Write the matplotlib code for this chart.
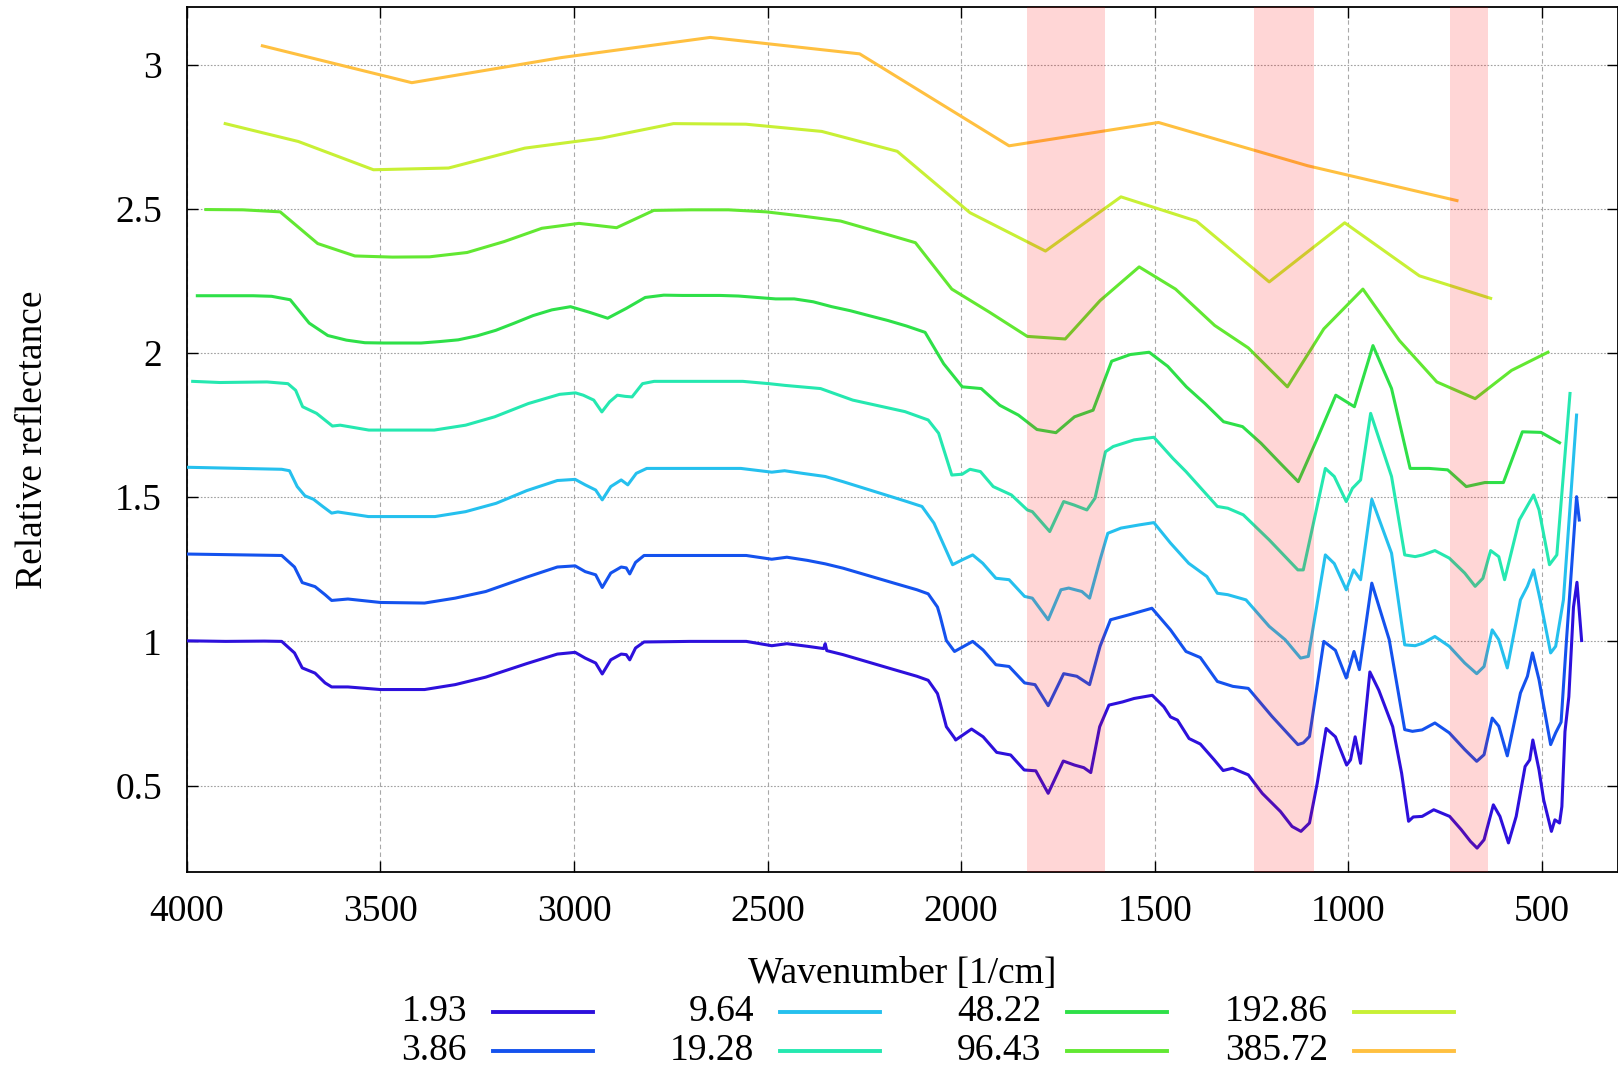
import matplotlib
matplotlib.use("Agg")
import matplotlib.pyplot as plt
from matplotlib.lines import Line2D

plt.rcParams["font.family"] = ["Liberation Serif", "DejaVu Serif"]
plt.rcParams["mathtext.fontset"] = "stix"

# spectral resolution of each curve [1/cm]
labels = ["1.93", "3.86", "9.64", "19.28", "48.22", "96.43", "192.86", "385.72"]
colors = ["#2d10dc", "#1452ee", "#25c0ee", "#25e8b0", "#2ee048", "#62e832", "#c8f035", "#ffc040"]

wn_193 = [4000, 3900, 3800, 3755, 3722, 3702, 3669, 3643, 3626, 3584, 3500, 3386, 3307, 3228, 3122,
          3043, 2997, 2971, 2944, 2927, 2905, 2878, 2865, 2856, 2841, 2819, 2700, 2555, 2489, 2450,
          2397, 2355, 2351, 2347, 2305, 2173, 2114, 2085, 2074, 2061, 2054, 2038, 2017, 2014, 1973,
          1943, 1908, 1872, 1837, 1807, 1775, 1736, 1707, 1683, 1665, 1642, 1618, 1583, 1553, 1506,
          1476, 1459, 1441, 1411, 1382, 1346, 1323, 1299, 1258, 1222, 1175, 1145, 1122, 1100, 1080,
          1057, 1033, 1004, 994, 982, 968, 944, 921, 885, 862, 844, 832, 809, 779, 738,
          708, 684, 667, 649, 625, 608, 586, 566, 543, 531, 523, 507, 495, 475, 466,
          454, 448, 440, 430, 418, 409, 397]
refl_193 = [1.002, 1.000, 1.001, 1.000, 0.960, 0.908, 0.890, 0.856, 0.842, 0.842, 0.833, 0.833, 0.850, 0.876, 0.923,
            0.956, 0.962, 0.942, 0.925, 0.887, 0.936, 0.956, 0.954, 0.936, 0.977, 0.998, 1.000, 1.000, 0.985, 0.992,
            0.983, 0.975, 0.992, 0.968, 0.954, 0.902, 0.879, 0.865, 0.844, 0.819, 0.786, 0.704, 0.665, 0.658, 0.696,
            0.669, 0.615, 0.606, 0.554, 0.551, 0.473, 0.585, 0.571, 0.562, 0.545, 0.704, 0.779, 0.790, 0.802, 0.813,
            0.773, 0.738, 0.727, 0.663, 0.644, 0.589, 0.552, 0.560, 0.537, 0.473, 0.410, 0.358, 0.341, 0.370, 0.508,
            0.698, 0.669, 0.571, 0.589, 0.669, 0.577, 0.894, 0.831, 0.704, 0.543, 0.376, 0.391, 0.393, 0.416, 0.393,
            0.347, 0.306, 0.283, 0.312, 0.433, 0.393, 0.301, 0.393, 0.566, 0.589, 0.658, 0.554, 0.450, 0.341, 0.381,
            0.370, 0.427, 0.687, 0.808, 1.119, 1.205, 1.003]

wn_386 = [4000, 3755, 3722, 3702, 3669, 3643, 3626, 3584, 3500, 3386, 3307, 3228, 3122, 3043, 2997,
          2971, 2944, 2927, 2905, 2878, 2865, 2856, 2841, 2819, 2555, 2489, 2450, 2397, 2351, 2305,
          2173, 2114, 2085, 2074, 2061, 2054, 2038, 2017, 1970, 1943, 1910, 1876, 1836, 1809, 1775,
          1735, 1701, 1668, 1641, 1614, 1567, 1507, 1459, 1419, 1382, 1338, 1298, 1258, 1197, 1130,
          1116, 1100, 1063, 1033, 1005, 985, 971, 939, 894, 854, 834, 809, 776, 739, 699,
          668, 649, 628, 611, 589, 555, 537, 524, 507, 477, 464, 450, 436, 410, 403]
refl_386 = [1.303, 1.298, 1.258, 1.204, 1.190, 1.162, 1.142, 1.147, 1.135, 1.133, 1.150, 1.173, 1.223, 1.258, 1.262,
            1.242, 1.231, 1.187, 1.237, 1.258, 1.255, 1.234, 1.274, 1.298, 1.298, 1.285, 1.292, 1.281, 1.269, 1.254,
            1.202, 1.179, 1.165, 1.144, 1.119, 1.087, 1.003, 0.965, 1.000, 0.970, 0.919, 0.913, 0.856, 0.850, 0.777,
            0.888, 0.879, 0.850, 0.983, 1.075, 1.092, 1.115, 1.040, 0.965, 0.944, 0.861, 0.844, 0.837, 0.740, 0.642,
            0.648, 0.670, 1.000, 0.969, 0.873, 0.965, 0.902, 1.202, 1.006, 0.694, 0.688, 0.693, 0.717, 0.683, 0.625,
            0.584, 0.607, 0.734, 0.706, 0.603, 0.821, 0.879, 0.960, 0.867, 0.642, 0.683, 0.720, 1.006, 1.502, 1.421]

wn_964 = [4000, 3755, 3735, 3715, 3695, 3673, 3649, 3626, 3610, 3531, 3359, 3280, 3201, 3122, 3043,
          2997, 2971, 2944, 2927, 2905, 2878, 2861, 2839, 2812, 2569, 2489, 2456, 2410, 2351, 2305,
          2147, 2101, 2070, 2043, 2022, 1997, 1970, 1944, 1910, 1876, 1836, 1816, 1775, 1742, 1722,
          1688, 1668, 1641, 1621, 1587, 1540, 1502, 1459, 1412, 1365, 1338, 1311, 1264, 1204, 1163,
          1123, 1103, 1059, 1036, 1005, 986, 968, 939, 888, 854, 827, 807, 776, 739, 699,
          668, 649, 628, 611, 589, 555, 537, 521, 504, 477, 464, 444, 410]
refl_964 = [1.604, 1.597, 1.592, 1.537, 1.505, 1.493, 1.468, 1.445, 1.449, 1.433, 1.433, 1.450, 1.479, 1.523, 1.558,
            1.562, 1.543, 1.525, 1.491, 1.537, 1.560, 1.543, 1.583, 1.600, 1.600, 1.587, 1.592, 1.583, 1.572, 1.554,
            1.488, 1.468, 1.410, 1.329, 1.266, 1.283, 1.300, 1.271, 1.219, 1.214, 1.156, 1.150, 1.075, 1.179, 1.185,
            1.173, 1.150, 1.283, 1.375, 1.393, 1.404, 1.412, 1.341, 1.271, 1.225, 1.167, 1.162, 1.144, 1.052, 1.006,
            0.942, 0.948, 1.300, 1.270, 1.179, 1.248, 1.214, 1.493, 1.306, 0.988, 0.985, 0.994, 1.017, 0.983, 0.925,
            0.888, 0.913, 1.040, 1.006, 0.908, 1.144, 1.191, 1.248, 1.144, 0.960, 0.983, 1.144, 1.785]

wn_1928 = [3985, 3915, 3793, 3739, 3719, 3701, 3665, 3624, 3604, 3530, 3361, 3280, 3205, 3118, 3037,
           2996, 2976, 2949, 2928, 2908, 2888, 2868, 2850, 2823, 2793, 2564, 2496, 2455, 2363, 2280,
           2145, 2085, 2058, 2024, 1997, 1977, 1950, 1917, 1870, 1829, 1816, 1771, 1735, 1708, 1675,
           1654, 1627, 1607, 1553, 1502, 1453, 1419, 1338, 1311, 1271, 1204, 1130, 1116, 1059, 1036,
           1005, 989, 968, 942, 888, 854, 827, 807, 776, 739, 699, 672, 652, 632, 611,
           596, 558, 521, 507, 480, 461, 427]
refl_1928 = [1.902, 1.898, 1.900, 1.894, 1.871, 1.814, 1.791, 1.747, 1.750, 1.733, 1.733, 1.750, 1.779, 1.825, 1.857,
             1.862, 1.854, 1.837, 1.796, 1.831, 1.854, 1.850, 1.848, 1.894, 1.902, 1.902, 1.894, 1.888, 1.877, 1.837,
             1.797, 1.768, 1.722, 1.577, 1.580, 1.597, 1.589, 1.537, 1.508, 1.456, 1.450, 1.381, 1.485, 1.473, 1.456,
             1.497, 1.658, 1.676, 1.699, 1.708, 1.635, 1.589, 1.468, 1.462, 1.439, 1.352, 1.248, 1.248, 1.600, 1.572,
             1.485, 1.531, 1.560, 1.791, 1.572, 1.300, 1.294, 1.300, 1.315, 1.289, 1.237, 1.191, 1.219, 1.315, 1.294,
             1.214, 1.421, 1.508, 1.456, 1.266, 1.300, 1.860]

wn_4822 = [3973, 3925, 3877, 3829, 3781, 3733, 3684, 3636, 3588, 3540, 3491, 3443, 3395, 3347, 3299,
           3250, 3202, 3154, 3106, 3057, 3009, 2961, 2913, 2865, 2816, 2768, 2720, 2672, 2623, 2575,
           2527, 2479, 2431, 2382, 2334, 2286, 2238, 2189, 2141, 2093, 2045, 1997, 1948, 1900, 1852,
           1804, 1755, 1707, 1659, 1611, 1563, 1514, 1466, 1418, 1370, 1322, 1273, 1225, 1177, 1129,
           1081, 1032, 984, 936, 888, 840, 791, 743, 695, 647, 599, 550, 502, 454]
refl_4822 = [2.199, 2.199, 2.199, 2.199, 2.197, 2.185, 2.104, 2.061, 2.045, 2.036, 2.035, 2.035, 2.035, 2.040, 2.046,
             2.060, 2.079, 2.104, 2.130, 2.150, 2.161, 2.142, 2.121, 2.155, 2.193, 2.201, 2.200, 2.200, 2.200, 2.198,
             2.193, 2.188, 2.188, 2.178, 2.161, 2.147, 2.130, 2.113, 2.094, 2.072, 1.963, 1.883, 1.877, 1.819, 1.785,
             1.735, 1.724, 1.779, 1.802, 1.972, 1.995, 2.003, 1.954, 1.883, 1.825, 1.762, 1.745, 1.687, 1.620, 1.554,
             1.700, 1.854, 1.814, 2.026, 1.877, 1.600, 1.600, 1.595, 1.537, 1.551, 1.551, 1.727, 1.725, 1.689]

wn_9643 = [3951, 3855, 3759, 3662, 3566, 3469, 3373, 3276, 3180, 3083, 2987, 2890, 2794, 2697, 2601,
           2504, 2408, 2311, 2215, 2118, 2024, 1928, 1829, 1731, 1641, 1540, 1446, 1345, 1258, 1157,
           1063, 962, 868, 771, 672, 578, 484]
refl_9643 = [2.498, 2.497, 2.490, 2.380, 2.337, 2.333, 2.334, 2.349, 2.387, 2.433, 2.450, 2.435, 2.495, 2.497, 2.497,
             2.490, 2.475, 2.458, 2.421, 2.383, 2.222, 2.143, 2.058, 2.049, 2.182, 2.299, 2.222, 2.096, 2.018, 1.883,
             2.084, 2.222, 2.044, 1.900, 1.842, 1.940, 2.003]

wn_19286 = [3901, 3712, 3518, 3324, 3127, 2928, 2743, 2556, 2360, 2165, 1977, 1782, 1587, 1392, 1204,
            1009, 816, 632]
refl_19286 = [2.796, 2.734, 2.636, 2.642, 2.711, 2.746, 2.796, 2.794, 2.769, 2.700, 2.487, 2.354, 2.542, 2.458, 2.247,
              2.452, 2.268, 2.190]

wn_38572 = [3805, 3419, 3033, 2648, 2262, 1876, 1490, 1105, 719]
refl_38572 = [3.066, 2.938, 3.025, 3.095, 3.038, 2.719, 2.800, 2.650, 2.529]

# highlighted absorption bands [1/cm]
band_hi = [1829, 1244, 736]
band_lo = [1628, 1088, 638]

xticks = [4000, 3500, 3000, 2500, 2000, 1500, 1000, 500]
yticks = [0.5, 1, 1.5, 2, 2.5, 3]

series_wn = [wn_193, wn_386, wn_964, wn_1928, wn_4822, wn_9643, wn_19286, wn_38572]
series_refl = [refl_193, refl_386, refl_964, refl_1928, refl_4822, refl_9643, refl_19286, refl_38572]

FS = 27

fig = plt.figure(figsize=(16.18, 10.68), dpi=100)
ax = fig.add_axes([0.1155, 0.1835, 0.8845, 0.8098])

for wn, refl, color in zip(series_wn, series_refl, colors):
    ax.plot(wn, refl, color=color, lw=2.2, solid_joinstyle="round", zorder=3)

for hi, lo in zip(band_hi, band_lo):
    ax.axvspan(lo, hi, color="red", alpha=0.16, lw=0, zorder=4)

ax.set_xlim(4000, 303)
ax.set_ylim(0.2, 3.2)
ax.set_xticks(xticks)
ax.set_yticks(yticks)
ax.set_yticklabels(["0.5", "1", "1.5", "2", "2.5", "3"])

ax.grid(axis="x", color="#a8a8a8", lw=0.8, linestyle=(0, (4, 3)), zorder=1)
ax.grid(axis="y", color="#a0a0a0", lw=0.8, linestyle=(0, (1.5, 1.5)), zorder=1)
ax.tick_params(direction="in", length=8, width=1.0, top=True, right=True, labelsize=FS)
ax.tick_params(axis="x", pad=16)
ax.tick_params(axis="y", pad=18)
for s in ax.spines.values():
    s.set_linewidth(1.3)

ax.set_xlabel("Wavenumber [1/cm]", fontsize=FS, labelpad=20)
ax.set_ylabel("Relative reflectance", fontsize=FS, labelpad=47)

# gnuplot-like key below the plot: label right-aligned, sample line after it
for i, (lab, color) in enumerate(zip(labels, colors)):
    col, row = i // 2, i % 2
    x_txt = 0.2886 + col * 0.1774
    y = 0.0525 - row * 0.0365
    fig.text(x_txt, y, lab, fontsize=FS, ha="right", va="center")
    fig.add_artist(Line2D([x_txt + 0.016, x_txt + 0.078], [y, y], color=color, lw=2.8,
                          transform=fig.transFigure))

fig.savefig("out.png", dpi=100)
